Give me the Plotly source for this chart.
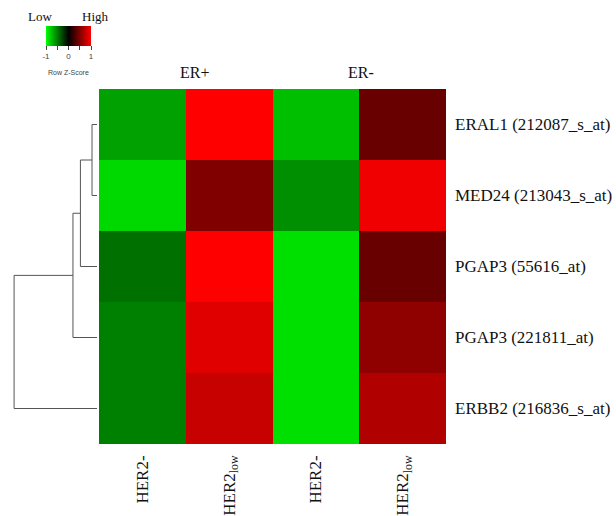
import plotly.graph_objects as go

# ---------------- data ----------------
col_labels = ["HER2-", "HER2<sub>low</sub>", "HER2-", "HER2<sub>low</sub>"]
group_labels = ["ER+", "ER-"]
group_pos = [0.6, 2.52]
row_labels = ["ERAL1 (212087_s_at)", "MED24 (213043_s_at)", "PGAP3 (55616_at)",
              "PGAP3 (221811_at)", "ERBB2 (216836_s_at)"]
row_eral1 = [-0.63, 1.00, -0.75, 0.41]
row_med24 = [-0.85, 0.50, -0.56, 0.94]
row_pgap3a = [-0.44, 1.00, -0.88, 0.41]
row_pgap3b = [-0.50, 0.88, -0.88, 0.56]
row_erbb2 = [-0.50, 0.78, -0.88, 0.69]
z = [row_eral1, row_med24, row_pgap3a, row_pgap3b, row_erbb2]

# dendrogram merges (leaf ids 0..4, new clusters 5..)
merge_left = [0, 5, 6, 7]
merge_right = [1, 2, 3, 4]
merge_height = [0.06, 0.20, 0.29, 1.00]

key_ticks = [-1, -0.5, 0, 0.5, 1]
key_ticktext = ["-1", " ", "0", " ", "1"]

W, H = 616, 516
serif = "Liberation Serif, Times New Roman, serif"
sans = "Liberation Sans, Arial, sans-serif"

colorscale = [[0.0, "rgb(0,255,0)"], [0.5, "rgb(0,0,0)"], [1.0, "rgb(255,0,0)"]]

fig = go.Figure()

fig.add_trace(go.Heatmap(
    z=z, x=list(range(len(col_labels))), y=list(range(len(row_labels))),
    colorscale=colorscale, zmin=-1, zmax=1, hoverinfo="skip",
    colorbar=dict(
        orientation="h", x=46 / W, xanchor="left", y=1 - 26 / H, yanchor="top",
        len=45, lenmode="pixels", thickness=20, thicknessmode="pixels",
        xpad=0, ypad=0, outlinewidth=0,
        tickvals=key_ticks, ticktext=key_ticktext, ticks="outside", ticklen=4,
        tickwidth=1, tickcolor="#444", tickfont=dict(size=8, family=sans, color="#444"),
    ),
))

# dendrogram
pos = {i: (float(i), 0.0) for i in range(len(row_labels))}
xs, ys = [], []
for k, (l, r, h) in enumerate(zip(merge_left, merge_right, merge_height)):
    yl, hl = pos[l]
    yr, hr = pos[r]
    xs += [hl, h, h, hr, None]
    ys += [yl, yl, yr, yr, None]
    pos[len(row_labels) + k] = ((yl + yr) / 2, h)
fig.add_trace(go.Scatter(x=xs, y=ys, mode="lines", xaxis="x2", yaxis="y",
                         line=dict(color="#555555", width=1), hoverinfo="skip",
                         showlegend=False))

fig.update_layout(
    width=W, height=H, margin=dict(l=0, r=0, t=0, b=0),
    paper_bgcolor="white", plot_bgcolor="white", showlegend=False,
    xaxis=dict(domain=[99 / W, 446 / W], range=[-0.5, 3.5], tickvals=list(range(4)),
               ticktext=col_labels, tickangle=-90, ticks="", showgrid=False,
               zeroline=False, showline=False, ticklabelstandoff=7,
               tickfont=dict(family=serif, size=17, color="#111")),
    yaxis=dict(domain=[(H - 444) / H, (H - 89) / H], range=[4.5, -0.5],
               tickvals=list(range(5)), ticktext=row_labels, side="right",
               ticks="", showgrid=False, zeroline=False, showline=False,
               ticklabelstandoff=8,
               tickfont=dict(family=serif, size=17, color="#111")),
    xaxis2=dict(domain=[0, 97 / W], range=[1.17, 0], anchor="y", visible=False,
                showgrid=False, zeroline=False),
)

for g, p in zip(group_labels, group_pos):
    fig.add_annotation(x=p, y=1 - 72 / H, xref="x", yref="paper", text=g,
                       showarrow=False, font=dict(family=serif, size=16, color="#111"),
                       xanchor="center", yanchor="middle")

fig.add_annotation(x=40 / W, y=1 - 16 / H, xref="paper", yref="paper", text="Low",
                   showarrow=False, font=dict(family=serif, size=13, color="#111"),
                   xanchor="center", yanchor="middle")
fig.add_annotation(x=95 / W, y=1 - 16 / H, xref="paper", yref="paper", text="High",
                   showarrow=False, font=dict(family=serif, size=13, color="#111"),
                   xanchor="center", yanchor="middle")
fig.add_annotation(x=68 / W, y=1 - 72 / H, xref="paper", yref="paper", text="Row Z-Score",
                   showarrow=False, font=dict(family=sans, size=7, color="#444"),
                   xanchor="center", yanchor="middle")

fig.write_html("out.html", config={"displayModeBar": False},
               post_script="document.body.style.margin='0';document.body.style.overflow='hidden';")
